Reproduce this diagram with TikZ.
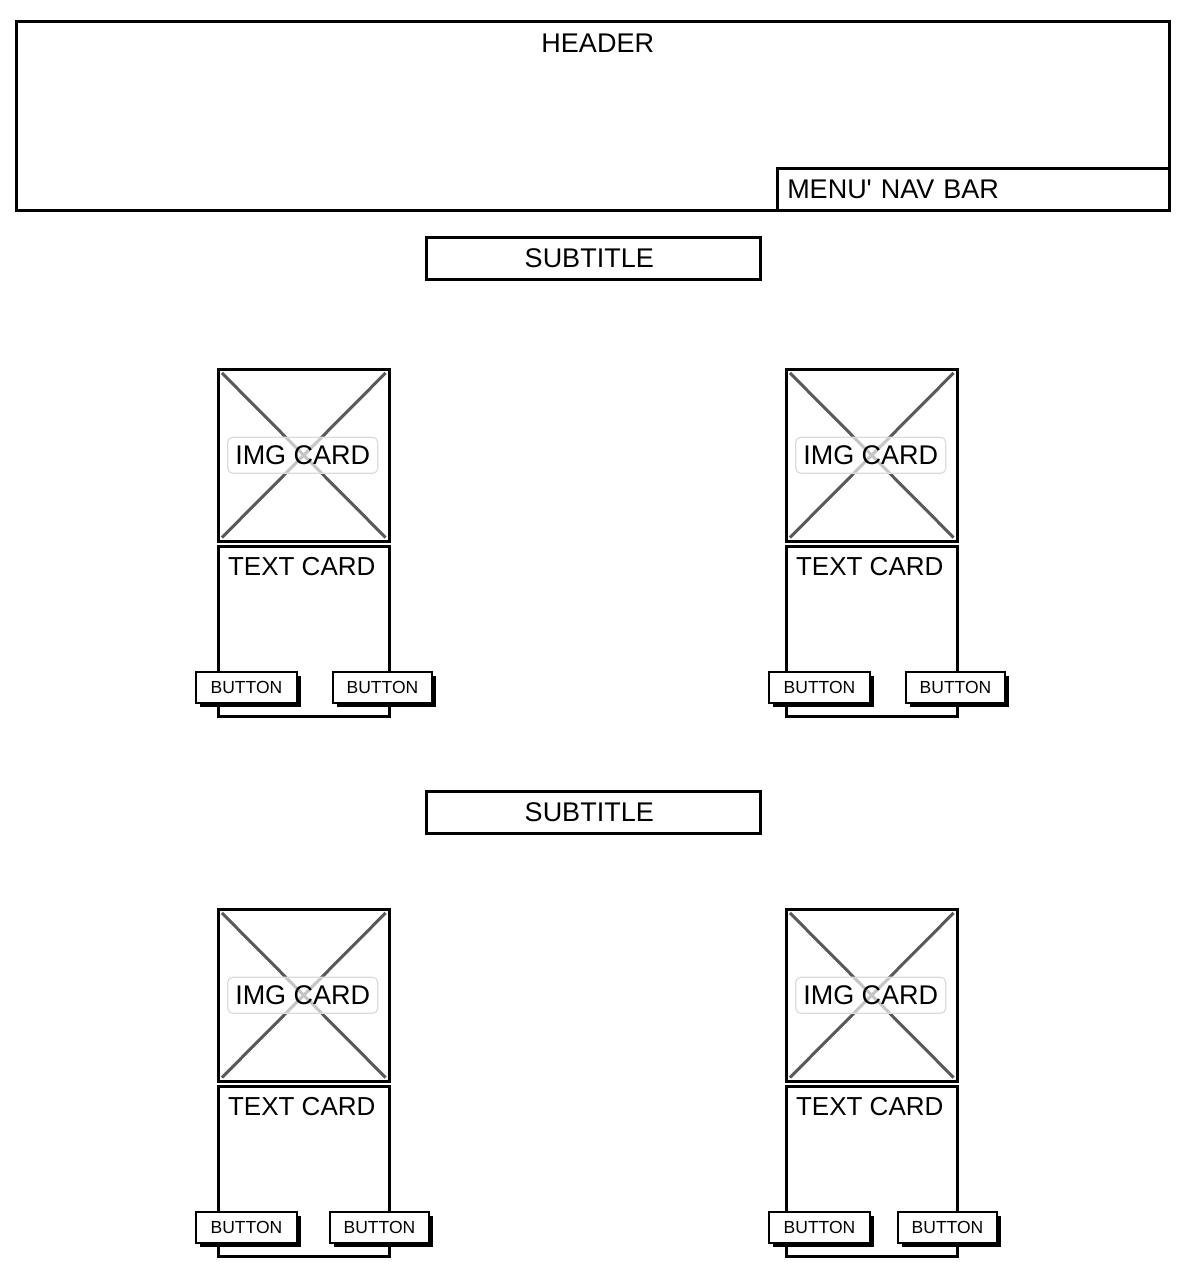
\documentclass[tikz,border=0pt]{standalone}
\usepackage{fontspec}
\setmainfont{Liberation Sans}
\usetikzlibrary{shadows}
\tikzset{
  box/.style={draw=black, line width=2.5pt, fill=white, rectangle, inner sep=0pt},
  txt/.style={font=\fontsize{27}{30}\selectfont},
  xline/.style={draw=black!65, line width=3pt, shorten <=7pt, shorten >=7pt},
  imglabel/.style={draw=black!14, line width=1.2pt, fill=white, fill opacity=0.65, text opacity=1,
    rounded corners=5pt, minimum width=150pt, minimum height=36pt, inner sep=0pt,
    font=\fontsize{27}{30}\selectfont},
  btn/.style={draw=black, line width=2pt, fill=white, minimum height=31pt, inner sep=0pt,
    font=\fontsize{17.5}{20}\selectfont,
    drop shadow={shadow xshift=4pt, shadow yshift=-4pt, fill=black, opacity=1}},
  subbox/.style={box, minimum width=334pt, minimum height=42pt, anchor=north west,
    label={[anchor=center, inner sep=0pt, xshift=-4pt, txt]center:SUBTITLE}},
}
\newcommand{\wfcard}[5]{%
  \node[box, minimum width=171pt, minimum height=172pt, anchor=north west] (#1img) at (#2,#3) {};
  \draw[xline] (#1img.north west) -- (#1img.south east);
  \draw[xline] (#1img.north east) -- (#1img.south west);
  \node[imglabel] (#1lbl) at ([xshift=-1pt]#1img.center) {IMG CARD};
  \node[box, minimum width=171pt, minimum height=170pt, anchor=north west,
    label={[name=#1tt, anchor=north, inner sep=0pt, yshift=-12pt, xshift=-2pt, font=\fontsize{26}{30}\selectfont]north:TEXT CARD}]
    (#1txt) at (#2,#3+177) {};
  \node[btn, minimum width=101pt, anchor=north west] (#1ba) at (#2+#4,#3+303) {BUTTON};
  \node[btn, minimum width=99pt, anchor=north west] (#1bb) at (#2+#5,#3+303) {BUTTON};
}
\begin{document}
\begin{tikzpicture}[x=1pt, y=-1pt]
  \useasboundingbox[fill=white] (0,0) rectangle (1198,1288);
  % header
  \node[box, minimum width=1153pt, minimum height=189pt, anchor=north west,
    label={[name=hdrtxt, anchor=north, inner sep=0pt, yshift=-13.5pt, xshift=5pt, txt]north:HEADER}]
    (header) at (15,20) {};
  \node[box, minimum width=392pt, minimum height=42pt, anchor=north west,
    inner xsep=10pt, text width=372pt, align=left, txt] (menu) at (776,167) {MENU\textquotesingle{} NAV BAR};
  % subtitles
  \node[subbox] (sub1) at (425,236) {};
  \node[subbox] (sub2) at (425,790) {};
  % cards
  \wfcard{ca}{217}{368}{-22}{115}
  \wfcard{cb}{785}{368}{-17}{120}
  \wfcard{cc}{217}{908}{-22}{112}
  \wfcard{cd}{785}{908}{-17}{112}
\end{tikzpicture}
\end{document}
